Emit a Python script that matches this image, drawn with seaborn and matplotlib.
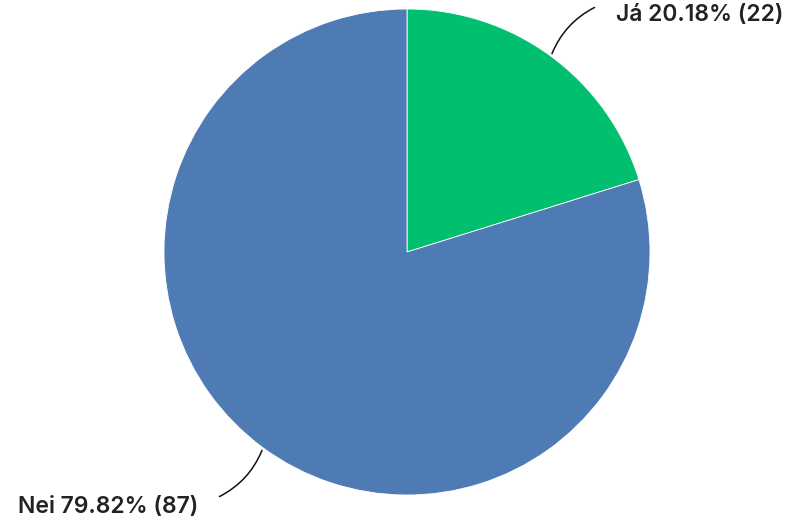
import numpy as np
import matplotlib
matplotlib.use('Agg')
import matplotlib.pyplot as plt
import seaborn as sns

labels = ['Já', 'Nei']
counts = [22, 87]
colors = ['#00BF6F', '#4E7BB3']

sns.set_theme(style='white')
plt.rcParams['font.family'] = ['Inter', 'DejaVu Sans']

fig = plt.figure(figsize=(7.9, 5.22), dpi=100)
ax = fig.add_axes([0, 0, 1, 1])

cx, cy, r = 407, 270, 243
wedges, _ = ax.pie(counts, colors=colors, startangle=90, counterclock=False,
                   center=(cx, cy), radius=r, frame=True,
                   wedgeprops=dict(edgecolor='white', linewidth=0.6))
ax.set_xlim(0, 790)
ax.set_ylim(0, 522)
ax.set_aspect('equal')
ax.axis('off')

total = sum(counts)
for w, lab, c in zip(wedges, labels, counts):
    ang = np.deg2rad((w.theta1 + w.theta2) / 2)
    x0, y0 = cx + r * np.cos(ang), cy + r * np.sin(ang)
    sx = np.sign(np.cos(ang))
    sy = np.sign(np.sin(ang))
    x1, y1 = x0 + 46 * sx, y0 + 50 * sy
    txt = f'{lab} {c / total * 100:.2f}% ({c})'
    ax.annotate('', xy=(x0, y0), xytext=(x1, y1),
                arrowprops=dict(arrowstyle='-', color='#111111', lw=1.1,
                                connectionstyle='arc3,rad=0.2'))
    ax.text(x1 + 19 * sx, y1 - 9, txt, ha='left' if sx > 0 else 'right',
            va='center', fontsize=16.5, fontweight='semibold', color='#222222')

fig.savefig('out.png', dpi=100)
